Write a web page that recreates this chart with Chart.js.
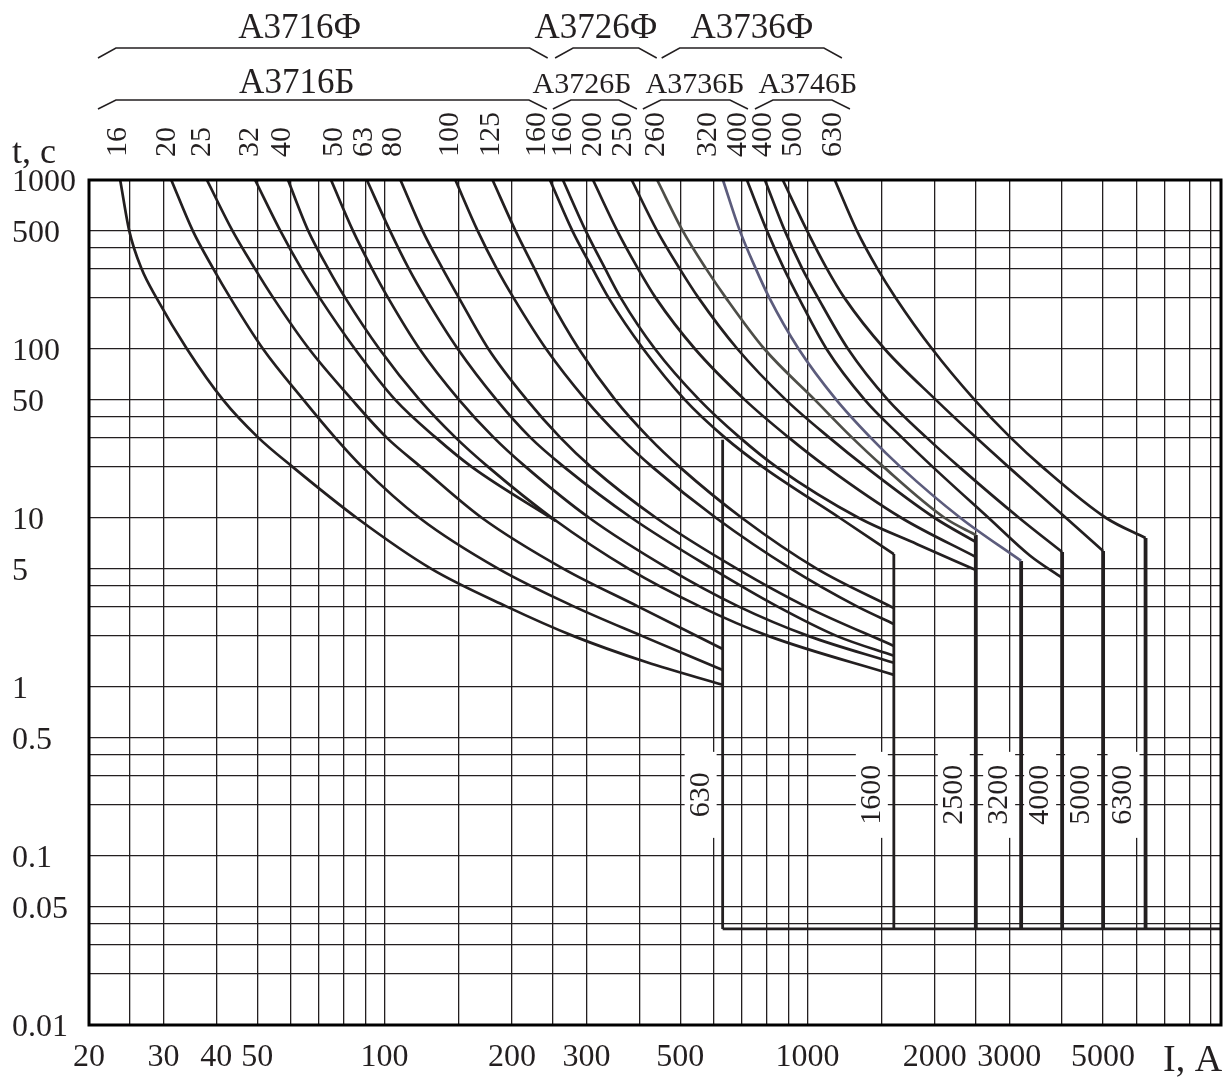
<!DOCTYPE html>
<html>
<head>
<meta charset="utf-8">
<script src="https://cdn.jsdelivr.net/npm/chart.js@4.4.0/dist/chart.umd.min.js"></script>
<style>
  html, body { margin: 0; padding: 0; background: #fff; }
  canvas { display: block; }
</style>
</head>
<body>
<canvas id="chart" width="1231" height="1079"></canvas>
<script>
// Axis grid and labels
const xMax = 9500;
const xGrid = [20, 25, 30, 40, 50, 60, 70, 80, 90, 100, 150, 200, 250, 300, 400, 500, 600, 700, 800, 900,
  1000, 1500, 2000, 2500, 3000, 4000, 5000, 6000, 7000, 8000, 9000];
const xLabels = [20, 30, 40, 50, 100, 200, 300, 500, 1000, 2000, 3000, 5000];
const yGrid = [0.01, 0.02, 0.03, 0.04, 0.05, 0.1, 0.2, 0.3, 0.4, 0.5, 1, 2, 3, 4, 5, 10, 20, 30, 40, 50,
  100, 200, 300, 400, 500, 1000];
const yLabels = [0.01, 0.05, 0.1, 0.5, 1, 5, 10, 50, 100, 500, 1000];

// Release ratings (A) and where each label stands on the current axis
const ratings = ["16", "20", "25", "32", "40", "50", "63", "80", "100", "125", "160",
  "160", "200", "250", "260", "320", "400", "400", "500", "630"];
const ratingAt = [23.5, 30.6, 37, 48, 57.2, 75.9, 89.4, 105, 143, 179, 229,
  264, 311, 366, 438, 581, 685, 784, 923, 1148];

// Time-current curves, one per rating: current, A
const curveI = [
  [23.7, 24.9, 26.6, 28.9, 34.1, 41.5, 50.2, 60.7, 86, 129, 194, 280, 417, 630],
  [31.3, 35.2, 39.3, 43.2, 51.6, 64.3, 76.3, 88.6, 121, 186, 280, 407, 630],
  [38, 43.7, 49.3, 54.6, 66.3, 83.8, 101, 122, 170, 265, 397, 630],
  [49.4, 56.7, 63.5, 70.3, 85.1, 106, 132, 161, 254],
  [59.1, 66, 73.5, 80.8, 97.2, 121, 147, 176, 249, 378, 556, 810, 1600],
  [74.7, 84.2, 93.3, 102, 121, 150, 181, 216, 305, 470, 686, 1007, 1600],
  [90.8, 103, 114, 125, 149, 184, 221, 266, 384, 596, 848, 1175, 1600],
  [109, 123, 137, 150, 176, 217, 260, 308, 439, 682, 989, 1600],
  [147, 166, 184, 202, 241, 299, 361, 430, 608, 915, 1309, 1600],
  [180, 204, 226, 245, 288, 351, 421, 499, 700, 1053, 1600],
  [246, 278, 310, 339, 409, 513, 637, 785, 1193, 1600],
  [264, 299, 332, 362, 436, 555, 691, 846, 1323, 1816, 2500],
  [311, 355, 397, 438, 542, 711, 902, 1110, 1669, 2500],
  [384, 441, 498, 553, 683, 889, 1124, 1374, 2000, 2500],
  [441, 507, 575, 642, 791, 1041, 1273, 1515, 2112, 2500],
  [631, 692, 754, 813, 953, 1170, 1408, 1661, 2301, 3200],
  [719, 802, 879, 954, 1109, 1366, 1671, 1980, 2682, 3355, 4000],
  [793, 884, 971, 1060, 1247, 1549, 1910, 2287, 3167, 4000],
  [874, 998, 1110, 1224, 1522, 2012, 2500, 2990, 4088, 5000],
  [1160, 1309, 1462, 1618, 1972, 2484, 3017, 3596, 5084, 6300],
];
// ... and time, s
const curveT = [
  [1000, 500, 300, 200, 100, 50, 30, 20, 10, 5, 3, 2, 1.4, 1.03],
  [1000, 500, 300, 200, 100, 50, 30, 20, 10, 5, 3, 2, 1.26],
  [1000, 500, 300, 200, 100, 50, 30, 20, 10, 5, 3, 1.68],
  [1000, 500, 300, 200, 100, 50, 30, 20, 9.6],
  [1000, 500, 300, 200, 100, 50, 30, 20, 10, 5, 3, 2, 1.18],
  [1000, 500, 300, 200, 100, 50, 30, 20, 10, 5, 3, 2, 1.39],
  [1000, 500, 300, 200, 100, 50, 30, 20, 10, 5, 3, 2, 1.53],
  [1000, 500, 300, 200, 100, 50, 30, 20, 10, 5, 3, 1.75],
  [1000, 500, 300, 200, 100, 50, 30, 20, 10, 5, 3, 2.36],
  [1000, 500, 300, 200, 100, 50, 30, 20, 10, 5, 2.93],
  [1000, 500, 300, 200, 100, 50, 30, 20, 10, 6.12],
  [1000, 500, 300, 200, 100, 50, 30, 20, 10, 7, 4.92],
  [1000, 500, 300, 200, 100, 50, 30, 20, 10, 5.88],
  [1000, 500, 300, 200, 100, 50, 30, 20, 10, 7.21],
  [1000, 500, 300, 200, 100, 50, 30, 20, 10, 7.93],
  [1000, 500, 300, 200, 100, 50, 30, 20, 10, 5.57],
  [1000, 500, 300, 200, 100, 50, 30, 20, 10, 6, 4.42],
  [1000, 500, 300, 200, 100, 50, 30, 20, 10, 6.29],
  [1000, 500, 300, 200, 100, 50, 30, 20, 10, 6.38],
  [1000, 500, 300, 200, 100, 50, 30, 20, 10, 7.61],
];

// Instantaneous trip currents, the time where each vertical starts, and the cut-off time
const tripI = [630, 1600, 2500, 3200, 4000, 5000, 6300];
const tripTop = [29, 6.12, 7.93, 5.57, 6.29, 6.38, 7.61];
const tripBottom = 0.037;

// Breaker series headers: span on the current axis and text centre
const groupsF = [
  { name: "А3716Ф", from: 21, to: 243, at: 63 },
  { name: "А3726Ф", from: 253, to: 440, at: 316 },
  { name: "А3736Ф", from: 452, to: 1206, at: 739 },
];
const groupsB = [
  { name: "А3716Б", from: 21, to: 242, at: 62 },
  { name: "А3726Б", from: 250, to: 395, at: 293 },
  { name: "А3736Б", from: 408, to: 723, at: 542 },
  { name: "А3746Б", from: 751, to: 1260, at: 1002 },
];

const serif = "'Liberation Serif', 'Times New Roman', serif";
const ink = "#231f20";

const drawBracket = (ctx, x1, x2, yTop, yLow) => {
  ctx.beginPath();
  ctx.moveTo(x1, yLow);
  ctx.lineTo(x1 + 18, yTop);
  ctx.lineTo(x2 - 18, yTop);
  ctx.lineTo(x2, yLow);
  ctx.stroke();
};

const annotations = {
  id: "annotations",
  beforeDatasetsDraw(chart) {
    const { ctx, scales: { x, y } } = chart;
    const cy = y.getPixelForValue(0.23);
    ctx.save();
    ctx.fillStyle = "#fff";
    tripI.forEach((a) => {
      ctx.fillRect(x.getPixelForValue(a) - 38, cy - 43, 32, 86);
    });
    ctx.fillStyle = ink;
    ctx.font = `30px ${serif}`;
    ctx.textAlign = "center";
    ctx.textBaseline = "middle";
    tripI.forEach((a) => {
      ctx.save();
      ctx.translate(x.getPixelForValue(a) - 22, cy);
      ctx.rotate(-Math.PI / 2);
      ctx.fillText(String(a), 0, 0);
      ctx.restore();
    });
    ctx.restore();
  },
  afterDraw(chart) {
    const { ctx, chartArea: area, scales: { x } } = chart;
    ctx.save();
    ctx.strokeStyle = "#000";
    ctx.lineWidth = 3;
    ctx.strokeRect(area.left, area.top, area.right - area.left, area.bottom - area.top);

    ctx.fillStyle = ink;
    ctx.strokeStyle = ink;
    ctx.lineWidth = 1.5;

    // rating labels, rotated
    ctx.font = `30px ${serif}`;
    ctx.textAlign = "left";
    ctx.textBaseline = "middle";
    ratings.forEach((r, i) => {
      ctx.save();
      ctx.translate(x.getPixelForValue(ratingAt[i]), 157);
      ctx.rotate(-Math.PI / 2);
      ctx.fillText(r, 0, 0);
      ctx.restore();
    });

    // series headers
    ctx.textAlign = "center";
    ctx.textBaseline = "alphabetic";
    ctx.font = `35px ${serif}`;
    groupsF.forEach((g) => {
      ctx.fillText(g.name, x.getPixelForValue(g.at), 38);
      drawBracket(ctx, x.getPixelForValue(g.from), x.getPixelForValue(g.to), 48, 58);
    });
    groupsB.forEach((g, i) => {
      ctx.font = `${i === 0 ? 35 : 30}px ${serif}`;
      ctx.fillText(g.name, x.getPixelForValue(g.at), 93);
      drawBracket(ctx, x.getPixelForValue(g.from), x.getPixelForValue(g.to), 100, 109);
    });

    // axis titles
    ctx.textAlign = "left";
    ctx.font = `36px ${serif}`;
    ctx.fillText("t, c", 12, 163);
    ctx.font = `38px ${serif}`;
    ctx.fillText("I, A", 1163, 1071);
    ctx.restore();
  },
};

const datasets = curveI.map((cur, i) => ({
  data: cur.map((v, k) => ({ x: v, y: curveT[i][k] })),
  borderColor: i === 14 ? "#4e4e48" : i === 15 ? "#5c5c7c" : ink,
  borderWidth: 2.7,
  pointRadius: 0,
  cubicInterpolationMode: "monotone",
}));
tripI.forEach((a, i) => {
  datasets.push({
    data: [{ x: a, y: tripTop[i] }, { x: a, y: tripBottom }],
    borderColor: ink,
    borderWidth: i < 2 ? 2.8 : 3.8,
    pointRadius: 0,
  });
});
datasets.push({
  data: [{ x: tripI[0], y: tripBottom }, { x: xMax, y: tripBottom }],
  borderColor: ink,
  borderWidth: 2.8,
  pointRadius: 0,
});

const tickFont = { family: serif, size: 32 };

new Chart(document.getElementById("chart"), {
  type: "line",
  data: { datasets },
  options: {
    responsive: false,
    animation: false,
    layout: { padding: { left: 12, top: 180, right: 10, bottom: 0 } },
    plugins: { legend: { display: false }, tooltip: { enabled: false } },
    scales: {
      x: {
        type: "logarithmic",
        min: 20,
        max: xMax,
        afterBuildTicks: (s) => { s.ticks = xGrid.map((v) => ({ value: v })); },
        afterFit: (s) => { s.height = 54; },
        grid: { color: ink, lineWidth: 1.3, drawTicks: false },
        border: { display: false },
        ticks: {
          autoSkip: false,
          maxRotation: 0,
          padding: 13,
          color: ink,
          font: tickFont,
          callback: (v) => (xLabels.includes(v) ? String(v) : ""),
        },
      },
      y: {
        type: "logarithmic",
        min: 0.01,
        max: 1000,
        afterBuildTicks: (s) => { s.ticks = yGrid.map((v) => ({ value: v })); },
        afterFit: (s) => { s.width = 77; },
        grid: { color: ink, lineWidth: 1.3, drawTicks: false },
        border: { display: false },
        ticks: {
          autoSkip: false,
          crossAlign: "far",
          padding: 0,
          labelOffset: 3,
          color: ink,
          font: tickFont,
          callback: (v) => (yLabels.includes(v) ? String(v) : ""),
        },
      },
    },
  },
  plugins: [annotations],
});
</script>
</body>
</html>
